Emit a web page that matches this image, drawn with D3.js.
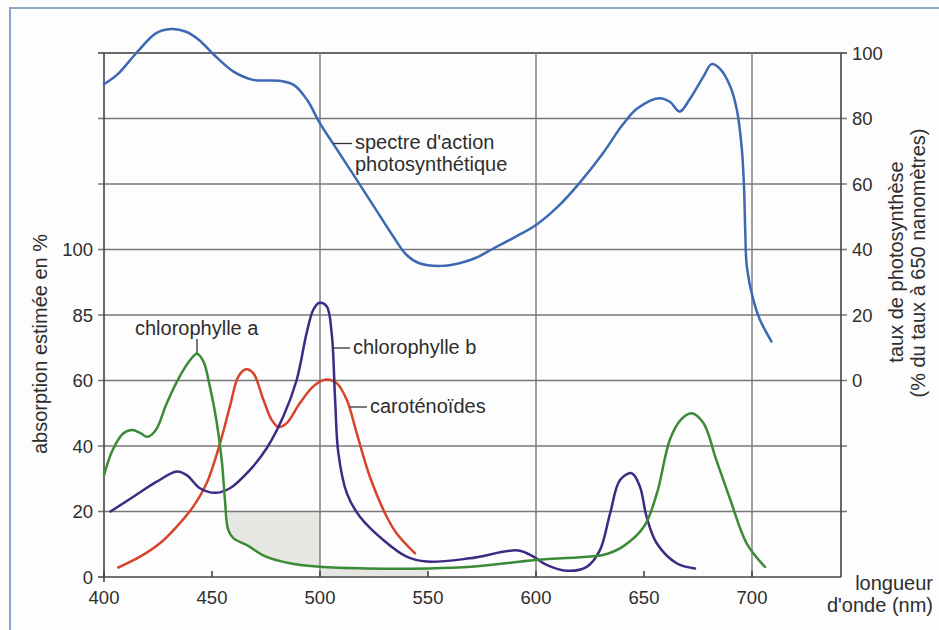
<!DOCTYPE html>
<html>
<head>
<meta charset="utf-8">
<script src="https://cdn.jsdelivr.net/npm/d3@7"></script>
<style>
  body { margin: 0; background: #fdfdfd; }
  svg { display: block; font-family: "Liberation Sans", Arial, Helvetica, sans-serif; }
  .tick-label { font-size: 18.5px; fill: #2e2e2e; }
  .label { font-size: 20px; fill: #2e2e2e; }
</style>
</head>
<body>
<div id="chart"></div>
<script>
'use strict'

// spectre d'action (right axis, % of rate at 650 nm)
var actionSpectrum = [
  [400, 90.5], [406, 93.3], [415, 100], [424, 106], [431, 107.3], [438, 106.5],
  [444, 104], [451, 99.4], [460, 94.3], [469, 91.8], [481, 91.5], [488, 90.2],
  [494, 85.7], [500, 78.5], [506, 72.4], [515, 63.3], [525, 53.1], [534, 43.9],
  [540, 38.4], [546, 35.8], [556, 35], [565, 35.9], [572, 37.4], [580, 40.2],
  [590, 43.7], [600, 47.5], [610, 53], [620, 60.2], [631, 69.4], [640, 78],
  [647, 83.1], [657, 86.2], [662, 85.1], [666.5, 82.1], [671, 85.7], [677.5, 92.8],
  [681.3, 96.6], [685, 95.3], [690, 89.7], [693, 82.6], [695.2, 71.4], [696.3, 59.2],
  [696.9, 45], [697.6, 34.8], [700.6, 24.6], [703.7, 18.5], [709, 11.9]
]

// absorption (left axis, %)
var chlorophylleA = [
  [400, 31.1], [404, 38.8], [409, 43.9], [413, 44.9], [417, 43.9], [420, 42.8],
  [424, 44.9], [429, 53], [435, 61.5], [440, 67.9], [443, 70.2], [446, 67.3],
  [449, 58.2], [452, 48], [454.5, 35.7], [456, 23.5], [457.5, 14.4], [460, 11.8],
  [466, 9.8], [475, 6.2], [486, 4.2], [500, 3.1], [522, 2.6], [550, 2.6],
  [570, 3.1], [600, 5.2], [624, 6.2], [631, 6.7], [640, 9.2], [650, 15.4],
  [656, 25.6], [662, 42], [667, 48], [672, 50], [677.5, 47], [683.5, 35.7],
  [690, 23.5], [697.5, 10.3], [706, 3.1]
]

var chlorophylleB = [
  [403, 20], [413.6, 24.5], [424.4, 29.1], [433.7, 32.2], [438.3, 31.1], [444.4, 27.1],
  [451.4, 25.7], [458.3, 27.1], [467.6, 32.7], [475.3, 39.3], [483, 49], [489.2, 60.2],
  [493.8, 78.1], [496.9, 86.2], [499.7, 87.8], [503.1, 87], [505.4, 78.1], [507, 54.1],
  [508.5, 37.8], [512.4, 25.6], [518.5, 18.4], [529.3, 11.3], [540.1, 6.2], [549.4, 4.7],
  [569.4, 5.7], [591.8, 8.1], [598.8, 6.2], [604.9, 3.7], [614.2, 1.9], [623.5, 3.1],
  [629.6, 8.2], [634.3, 19.4], [638.9, 29.6], [644.3, 31.7], [648.1, 27.6], [651.2, 18.4],
  [655.9, 10.3], [665.1, 4.2], [673.6, 2.6]
]

var carotenoides = [
  [406.6, 2.9], [416.7, 6.2], [425.9, 10.3], [433.7, 15.4], [441.3, 21.5], [447.5, 28.6],
  [453.7, 40.8], [458.3, 52.1], [462.2, 61.5], [465.7, 64.3], [469.1, 62.8], [473.8, 54.1],
  [477.6, 48], [480.7, 45.8], [484.6, 47], [490.7, 53.1], [496.9, 58.2], [502.3, 60.3],
  [507.7, 59.2], [512.4, 54.1], [517, 43.9], [523.1, 30.6], [530.9, 18.4], [535.5, 13.3],
  [544, 7.2]
]

var nmTicks = [400, 450, 500, 550, 600, 650, 700]
var nmGrid = [500, 600, 700]
var absTicks = [0, 20, 40, 60, 85, 100]
var rateTicks = [0, 20, 40, 60, 80, 100]
var gridLevels = [-60, -40, -20, 0, 20, 40, 60, 80, 100]

var width = 939, height = 630

var svg = d3.select('#chart').append('svg')
  .attr('width', width)
  .attr('height', height)

// frame of the scanned page
svg.append('rect')
  .attr('x', 10).attr('y', 8)
  .attr('width', width + 20).attr('height', height + 20)
  .attr('fill', '#fdfdfd')
  .attr('stroke', '#8ea4cb')
  .attr('stroke-width', 2)

var x = d3.scaleLinear().domain([400, 700]).range([104, 752])
var xEnd = 741.2

var yRate = d3.scaleLinear().domain([-60, 100]).range([577, 53])
// left axis is not linear: its labels sit on the same gridlines
var yAbs = d3.scaleLinear()
  .domain(absTicks)
  .range(absTicks.map(function(d, i) { return yRate(gridLevels[i]) }))

var left = x(400), right = x(xEnd)

// light grey shading printed in the figure
var shadeTop = d3.area()
  .x(function(d) { return x(d[0]) })
  .y0(yAbs(20))
  .y1(function(d) { return yAbs(d[1]) })
svg.append('path')
  .datum(chlorophylleA.filter(function(d) { return d[0] >= 457.5 && d[0] <= 500 }))
  .attr('d', shadeTop)
  .attr('fill', '#e6e6e3')

var shadeBottom = d3.area()
  .x(function(d) { return x(d[0]) })
  .y0(yAbs(0))
  .y1(function(d) { return yAbs(d[1]) })
svg.append('path')
  .datum(chlorophylleA.filter(function(d) { return d[0] >= 500 && d[0] <= 550 }))
  .attr('d', shadeBottom)
  .attr('fill', '#e6e6e3')

// horizontal gridlines
svg.append('g').selectAll('line').data(gridLevels.slice(1))
  .enter().append('line')
  .attr('x1', left - 6).attr('x2', right + 6)
  .attr('y1', function(d) { return yRate(d) })
  .attr('y2', function(d) { return yRate(d) })
  .attr('stroke', function(d) { return d === 100 ? '#3a3a3a' : '#777' })
  .attr('stroke-width', 1.4)

// vertical gridlines
svg.append('g').selectAll('line').data(nmGrid)
  .enter().append('line')
  .attr('x1', function(d) { return x(d) })
  .attr('x2', function(d) { return x(d) })
  .attr('y1', yRate(100)).attr('y2', yRate(-60))
  .attr('stroke', '#777')
  .attr('stroke-width', 1.4)

// axes frame
svg.append('line')
  .attr('x1', left).attr('x2', left)
  .attr('y1', yRate(100)).attr('y2', yRate(-60) + 5)
  .attr('stroke', '#444').attr('stroke-width', 1.6)
svg.append('line')
  .attr('x1', right).attr('x2', right)
  .attr('y1', yRate(100)).attr('y2', yRate(-60))
  .attr('stroke', '#444').attr('stroke-width', 1.6)
svg.append('line')
  .attr('x1', left - 6).attr('x2', right)
  .attr('y1', yRate(-60)).attr('y2', yRate(-60))
  .attr('stroke', '#444').attr('stroke-width', 1.6)

// x ticks
var xTicks = svg.append('g').selectAll('g').data(nmTicks)
  .enter().append('g')
  .attr('transform', function(d) { return 'translate(' + x(d) + ',' + yRate(-60) + ')' })
xTicks.append('line')
  .attr('y1', -6).attr('y2', 0)
  .attr('stroke', '#444').attr('stroke-width', 1.6)
xTicks.append('text')
  .attr('class', 'tick-label')
  .attr('y', 27)
  .attr('text-anchor', 'middle')
  .text(function(d) { return d })

// left tick labels
svg.append('g').selectAll('text').data(absTicks)
  .enter().append('text')
  .attr('class', 'tick-label')
  .attr('x', left - 11)
  .attr('y', function(d) { return yAbs(d) })
  .attr('dy', '0.36em')
  .attr('text-anchor', 'end')
  .text(function(d) { return d })

// right tick labels
svg.append('g').selectAll('text').data(rateTicks)
  .enter().append('text')
  .attr('class', 'tick-label')
  .attr('x', right + 11)
  .attr('y', function(d) { return yRate(d) })
  .attr('dy', '0.36em')
  .text(function(d) { return d })

// axis titles
svg.append('text')
  .attr('class', 'label')
  .attr('transform', 'translate(47,344) rotate(-90)')
  .attr('text-anchor', 'middle')
  .text('absorption estimée en %')

svg.append('text')
  .attr('class', 'label')
  .attr('transform', 'translate(903,262) rotate(-90)')
  .attr('text-anchor', 'middle')
  .text('taux de photosynthèse')
svg.append('text')
  .attr('class', 'label')
  .attr('transform', 'translate(925,263) rotate(-90)')
  .attr('text-anchor', 'middle')
  .text('(% du taux à 650 nanomètres)')

svg.append('text')
  .attr('class', 'label')
  .attr('x', 933).attr('y', 590)
  .attr('text-anchor', 'end')
  .text('longueur')
svg.append('text')
  .attr('class', 'label')
  .attr('x', 933).attr('y', 612)
  .attr('text-anchor', 'end')
  .text("d'onde (nm)")

// curves
var absLine = d3.line()
  .x(function(d) { return x(d[0]) })
  .y(function(d) { return yAbs(d[1]) })
  .curve(d3.curveCatmullRom.alpha(0.5))

var rateLine = d3.line()
  .x(function(d) { return x(d[0]) })
  .y(function(d) { return yRate(d[1]) })
  .curve(d3.curveCatmullRom.alpha(0.5))

var series = [
  { data: carotenoides, line: absLine, color: '#d8432c' },
  { data: chlorophylleB, line: absLine, color: '#3e2a82' },
  { data: chlorophylleA, line: absLine, color: '#3a8a36' },
  { data: actionSpectrum, line: rateLine, color: '#3b69b3' }
]

series.forEach(function(s) {
  svg.append('path')
    .datum(s.data)
    .attr('d', s.line)
    .attr('fill', 'none')
    .attr('stroke', s.color)
    .attr('stroke-width', 2.5)
    .attr('stroke-linejoin', 'round')
    .attr('stroke-linecap', 'round')
})

// curve labels with their leader lines
var labels = [
  { text: "spectre d'action", x: 355, y: 149 },
  { text: 'photosynthétique', x: 355, y: 171 },
  { text: 'chlorophylle a', x: 135, y: 335 },
  { text: 'chlorophylle b', x: 353, y: 354 },
  { text: 'caroténoïdes', x: 370, y: 413 }
]
svg.append('g').selectAll('text').data(labels)
  .enter().append('text')
  .attr('class', 'label')
  .attr('x', function(d) { return d.x })
  .attr('y', function(d) { return d.y })
  .text(function(d) { return d.text })

var leaders = [
  [[333, 143.5], [352, 143.5]],
  [[197, 339], [197, 353]],
  [[333, 348], [350, 348]],
  [[350, 407], [367, 407]]
]
svg.append('g').selectAll('line').data(leaders)
  .enter().append('line')
  .attr('x1', function(d) { return d[0][0] })
  .attr('y1', function(d) { return d[0][1] })
  .attr('x2', function(d) { return d[1][0] })
  .attr('y2', function(d) { return d[1][1] })
  .attr('stroke', '#333')
  .attr('stroke-width', 1.3)
</script>
</body>
</html>
